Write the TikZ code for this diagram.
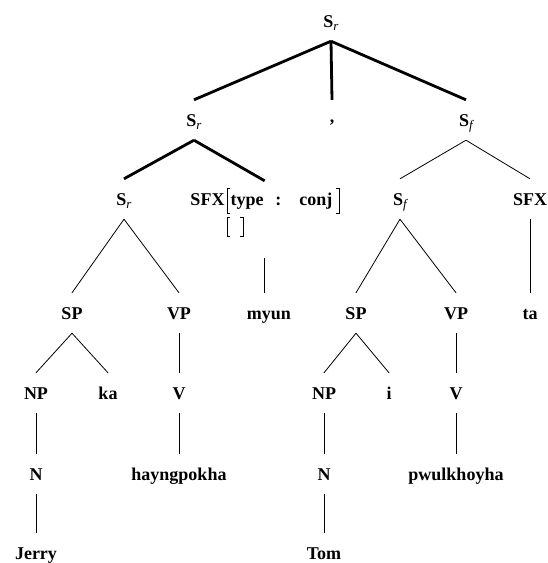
\documentclass[tikz,border=0pt]{standalone}
\usepackage{fontspec}
\setmainfont{Liberation Serif}
\usetikzlibrary{fit}
\newcommand{\mysub}[1]{\raisebox{-3.5pt}{\fontsize{13}{13}\selectfont\mdseries\itshape #1}}
\begin{document}
\begin{tikzpicture}[x=1pt,y=1pt,
  lab/.style={font=\fontsize{18}{18}\selectfont\bfseries, text height=16pt, text depth=4pt, inner xsep=0pt, inner ysep=10pt},
  heavy/.style={line width=2.8pt},
  light/.style={line width=0.8pt},
  brk/.style={line width=0.9pt}]
\useasboundingbox (0,0) rectangle (548,-563);
% level 1
\node[lab] (root) at (331,-21) {S\mysub{r}};
% level 2
\node[lab] (sr2) at (194,-120) {S\mysub{r}};
\node[lab] (comma) at (332,-116) {,};
\node[lab] (sf2) at (466,-120) {S\mysub{f}};
% level 3
\node[lab] (sr3) at (124,-199) {S\mysub{r}};
\node[lab] (sfxhead) at (207.5,-199) {SFX};
\node[lab] (avm) at (281.5,-199) {type\hspace{12pt}:\hspace{18pt}conj};
\coordinate (lbt) at (227,-188);
\coordinate (rbt) at (339,-188);
\coordinate (lbb) at (227,-236);
\node[lab] (sfxempty) at (235,-226) {};
\node[fit=(sfxhead.west)(rbt)(lbb)(lbt), inner xsep=0pt, inner ysep=7pt] (sfx) {};
\node[lab] (sf3) at (400,-199) {S\mysub{f}};
\node[lab] (sfx2) at (530,-199) {SFX};
% level 4
\node[lab] (sp1) at (72,-313) {SP};
\node[lab] (vp1) at (179,-313) {VP};
\node[lab] (myun) at (269,-313) {myun};
\node[lab] (sp2) at (356,-313) {SP};
\node[lab] (vp2) at (456,-313) {VP};
\node[lab] (ta) at (530,-313) {ta};
% level 5
\node[lab] (np1) at (36,-393) {NP};
\node[lab] (ka) at (108,-393) {ka};
\node[lab] (v1) at (179,-393) {V};
\node[lab] (np2) at (324,-393) {NP};
\node[lab] (i) at (389,-393) {i};
\node[lab] (v2) at (456,-393) {V};
% level 6
\node[lab] (n1) at (36,-474) {N};
\node[lab] (hay) at (179,-474) {hayngpokha};
\node[lab] (n2) at (324,-474) {N};
\node[lab] (pwul) at (456,-474) {pwulkhoyha};
% level 7
\node[lab] (jerry) at (36,-553) {Jerry};
\node[lab] (tom) at (324,-553) {Tom};
% brackets
\draw[brk] (230,-188) -- (lbt) -- (227,-213) -- (230,-213);
\draw[brk] (336,-188) -- (rbt) -- (339,-213) -- (336,-213);
\draw[brk] (230,-217) -- (227,-217) -- (lbb) -- (230,-236);
\draw[brk] (240,-217) -- (243,-217) -- (243,-236) -- (240,-236);
% heavy edges
\draw[heavy] (root.south) -- (sr2.north);
\draw[heavy] (root.south) -- (comma.north |- sr2.north);
\draw[heavy] (root.south) -- (sf2.north);
\draw[heavy] (sr2.south) -- (sr3.north);
\draw[heavy] (sr2.south) -- (sfx.north);
% light edges
\draw[light] (sf2.south) -- (sf3.north);
\draw[light] (sf2.south) -- (sfx2.north);
\draw[light] (sr3.south) -- (sp1.north);
\draw[light] (sr3.south) -- (vp1.north);
\draw[light, shorten <=15pt] (sfx.south) -- (sfx.south |- myun.north);
\draw[light] (sf3.south) -- (sp2.north);
\draw[light] (sf3.south) -- (vp2.north);
\draw[light] (sfx2.south) -- (ta.north);
\draw[light] (sp1.south) -- (np1.north);
\draw[light] (sp1.south) -- (ka.north);
\draw[light] (vp1.south) -- (v1.north);
\draw[light] (sp2.south) -- (np2.north);
\draw[light] (sp2.south) -- (i.north);
\draw[light] (vp2.south) -- (v2.north);
\draw[light] (np1.south) -- (n1.north);
\draw[light] (v1.south) -- (hay.north);
\draw[light] (np2.south) -- (n2.north);
\draw[light] (v2.south) -- (pwul.north);
\draw[light] (n1.south) -- (jerry.north);
\draw[light] (n2.south) -- (tom.north);
\end{tikzpicture}
\end{document}
